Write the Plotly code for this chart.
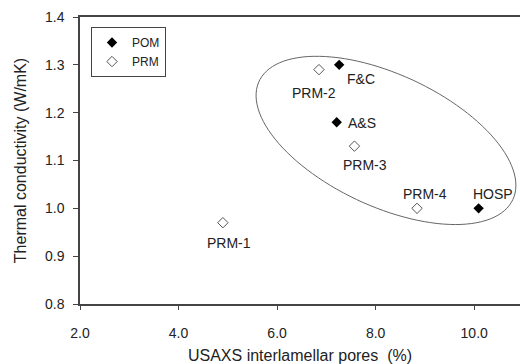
import numpy as np
import plotly.graph_objects as go

# ---- data ----
pom_names = ["F&C", "A&S", "HOSP"]
pom_x = [7.26, 7.21, 10.09]
pom_y = [1.30, 1.18, 1.00]

prm_names = ["PRM-1", "PRM-2", "PRM-3", "PRM-4"]
prm_x = [4.90, 6.85, 7.57, 8.84]
prm_y = [0.97, 1.29, 1.13, 1.00]

x_ticks = [2.0, 4.0, 6.0, 8.0, 10.0]
y_ticks = [0.8, 0.9, 1.0, 1.1, 1.2, 1.3, 1.4]

# label offsets (px, screen: +x right, +y down) relative to each point
pom_off = {"F&C": (22, 14), "A&S": (25, 1), "HOSP": (14, -14)}
prm_off = {"PRM-1": (6, 20), "PRM-2": (-5, 23), "PRM-3": (11, 19), "PRM-4": (8, -14)}

W, H = 520, 364
ml, mt, mb, mr = 80, 17, 60, 0
xr = [2.0, 10.93]
yr = [0.8, 1.4]

fig = go.Figure()
fig.add_trace(go.Scatter(x=pom_x, y=pom_y, mode="markers", name="POM",
                         marker=dict(symbol="diamond", size=8, color="black")))
fig.add_trace(go.Scatter(x=prm_x, y=prm_y, mode="markers", name="PRM",
                         marker=dict(symbol="diamond-open", size=8, color="#555",
                                     line=dict(width=1, color="#555"))))

lab_font = dict(family="Liberation Sans, Arial, sans-serif", size=14, color="#222")
for n, x, y in zip(pom_names, pom_x, pom_y):
    dx, dy = pom_off[n]
    fig.add_annotation(x=x, y=y, text=n, showarrow=False, xshift=dx, yshift=-dy, font=lab_font)
for n, x, y in zip(prm_names, prm_x, prm_y):
    dx, dy = prm_off[n]
    fig.add_annotation(x=x, y=y, text=n, showarrow=False, xshift=dx, yshift=-dy, font=lab_font)

# ellipse enclosing the cluster (rotated in screen space)
pxx = (W - ml - mr) / (xr[1] - xr[0])
pxy = (H - mt - mb) / (yr[1] - yr[0])
cx, cy = 8.21, 1.142
a, b, th = 140.0, 66.0, np.deg2rad(25)
t = np.linspace(0, 2 * np.pi, 120)
ex = a * np.cos(t) * np.cos(th) - b * np.sin(t) * np.sin(th)
ey = a * np.cos(t) * np.sin(th) + b * np.sin(t) * np.cos(th)
xs = cx + ex / pxx
ys = cy - ey / pxy
path = "M " + " L ".join(f"{x:.4f},{y:.4f}" for x, y in zip(xs, ys)) + " Z"
fig.add_shape(type="path", path=path, xref="x", yref="y",
              line=dict(color="#666", width=1))

axis_font = dict(family="Liberation Sans, Arial, sans-serif", size=14, color="#222")
fig.update_layout(
    width=W, height=H,
    margin=dict(l=ml, r=mr, t=mt, b=mb),
    paper_bgcolor="white", plot_bgcolor="white",
    font=dict(family="Liberation Sans, Arial, sans-serif", color="#222"),
    showlegend=True,
    legend=dict(x=0.025, y=0.965, xanchor="left", yanchor="top",
                bordercolor="#444", borderwidth=1, bgcolor="white",
                font=dict(size=12, color="#222"), itemwidth=30,
                tracegroupgap=0),
    xaxis=dict(range=xr, tickvals=x_ticks, ticktext=[f"{v:.1f}" for v in x_ticks],
               showgrid=False, zeroline=False, showline=True, linecolor="#444",
               linewidth=1.5, mirror=True, ticks="outside", ticklen=4, tickcolor="#444",
               tickfont=axis_font, ticklabelstandoff=11,
               title=dict(text="USAXS interlamellar pores  (%)",
                          font=dict(size=16, color="#222"), standoff=10)),
    yaxis=dict(range=yr, tickvals=y_ticks, ticktext=[f"{v:.1f}" for v in y_ticks],
               showgrid=False, zeroline=False, showline=True, linecolor="#444",
               linewidth=1.5, mirror=False, ticks="outside", ticklen=5, tickcolor="#444",
               tickfont=axis_font, ticklabelstandoff=6,
               title=dict(text="Thermal conductivity (W/mK)",
                          font=dict(size=16, color="#222"), standoff=14)),
)

fig.write_html("out.html")
